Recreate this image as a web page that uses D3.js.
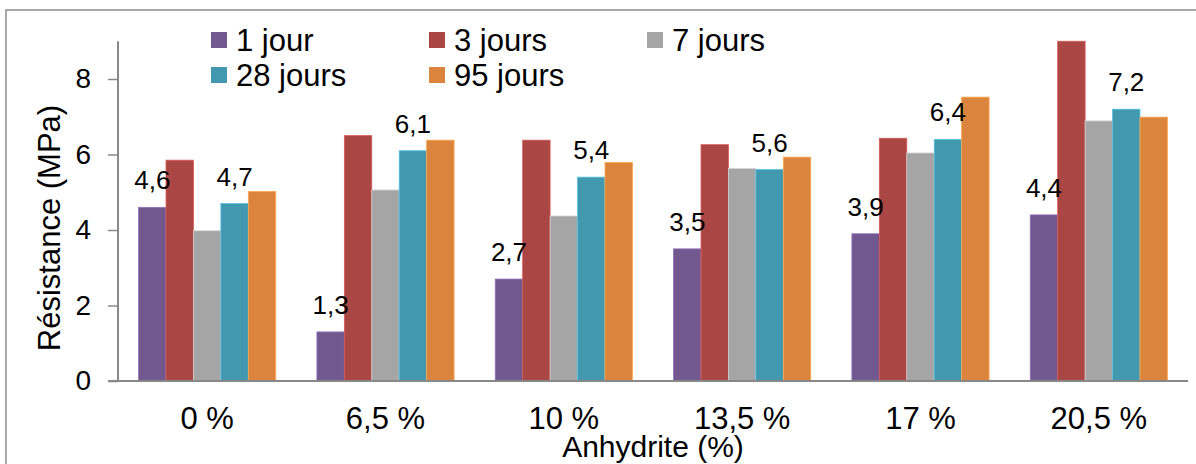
<!DOCTYPE html>
<html><head><meta charset="utf-8">
<script src="https://cdn.jsdelivr.net/npm/d3@7"></script>
<style>body{margin:0;background:#fff}svg{display:block;font-family:"Liberation Sans",Arial,sans-serif}</style>
</head><body>
<svg id="c" width="1196" height="464"></svg>
<script>
const categories = ["0 %", "6,5 %", "10 %", "13,5 %", "17 %", "20,5 %"];
const seriesNames = ["1 jour", "3 jours", "7 jours", "28 jours", "95 jours"];
const colors = ["#71588F", "#AA4643", "#A5A5A5", "#4198AF", "#DB843D"];
const jour1  = [4.6, 1.3, 2.7, 3.5, 3.9, 4.4];
const jours3 = [5.85, 6.5, 6.38, 6.26, 6.43, 9.0];
const jours7 = [3.98, 5.06, 4.37, 5.63, 6.04, 6.89];
const jours28 = [4.7, 6.1, 5.4, 5.6, 6.4, 7.2];
const jours95 = [5.02, 6.38, 5.79, 5.93, 7.52, 6.99];
const yTicks = [0, 2, 4, 6, 8];
const labelledSeries = [0, 3];
const yTitle = "Résistance (MPa)";
const xTitle = "Anhydrite (%)";

const series = [jour1, jours3, jours7, jours28, jours95];
const svg = d3.select("#c");
const L = 118, R = 1188, T = 41.25, B = 381;
const axisCol = "#888888";

// outer border (left + top)
svg.append("path").attr("d", `M6,464 V10 H1196`).attr("fill","none").attr("stroke","#8c8c8c").attr("stroke-width",1.5);

const x0 = d3.scaleBand().domain(categories).range([L, R]).paddingInner(0.2308).paddingOuter(0.1154);
const x1 = d3.scaleBand().domain(d3.range(5)).range([0, x0.bandwidth()]);
const y = d3.scaleLinear().domain([0, 9]).range([B, T]);

// bars
categories.forEach((cat, ci) => {
  series.forEach((s, si) => {
    svg.append("rect")
      .attr("x", x0(cat) + x1(si))
      .attr("y", y(s[ci]))
      .attr("width", x1.bandwidth())
      .attr("height", B - y(s[ci]))
      .attr("fill", colors[si])
      .attr("stroke", d3.color(colors[si]).brighter(0.7))
      .attr("stroke-width", 0.8);
  });
});

// data labels
labelledSeries.forEach(si => {
  categories.forEach((cat, ci) => {
    svg.append("text")
      .attr("x", x0(cat) + x1(si) + x1.bandwidth()/2)
      .attr("y", y(series[si][ci]) - 18)
      .attr("text-anchor","middle").attr("font-size",26).attr("fill","#000")
      .text(String(series[si][ci]).replace(".", ","));
  });
});

// y axis
const yAxis = d3.axisLeft(y).tickValues(yTicks).tickSize(10).tickPadding(17).tickFormat(d => d);
const gy = svg.append("g").attr("transform", `translate(${L},0)`).call(yAxis);
gy.attr("font-size", 28).attr("font-family","Liberation Sans, Arial, sans-serif");
gy.select(".domain").attr("stroke", axisCol).attr("stroke-width", 2).attr("d", `M0,${T}V${B}`);
gy.selectAll(".tick line").attr("stroke", axisCol).attr("stroke-width", 1.5);
gy.selectAll(".tick text").attr("font-size", 28).attr("fill","#000");

// x axis
const xAxis = d3.axisBottom(x0).tickSize(0).tickPadding(0);
const gx = svg.append("g").attr("transform", `translate(0,${B})`).call(xAxis);
gx.attr("font-size", 31).attr("font-family","Liberation Sans, Arial, sans-serif");
gx.select(".domain").attr("stroke", axisCol).attr("stroke-width", 2).attr("d", `M${L-10},0H${R}`);
gx.selectAll(".tick text").attr("font-size", 31).attr("fill","#000").attr("dy", null).attr("y", 48);

// axis titles
svg.append("text").attr("x", (L+R)/2).attr("y", 457).attr("text-anchor","middle").attr("font-size",30).text(xTitle);
svg.append("text").attr("transform", `translate(60,228) rotate(-90)`).attr("text-anchor","middle").attr("font-size",31).text(yTitle);

// legend
const legX = [211, 429, 647];
const legY = [32, 67];
seriesNames.forEach((n, i) => {
  const col = i % 3, row = Math.floor(i / 3);
  const g = svg.append("g").attr("transform", `translate(${legX[col]},${legY[row]})`);
  g.append("rect").attr("width",16).attr("height",16).attr("fill",colors[i]);
  g.append("text").attr("x",25).attr("y",18.5).attr("font-size",31).text(n);
});
</script>
</body></html>
